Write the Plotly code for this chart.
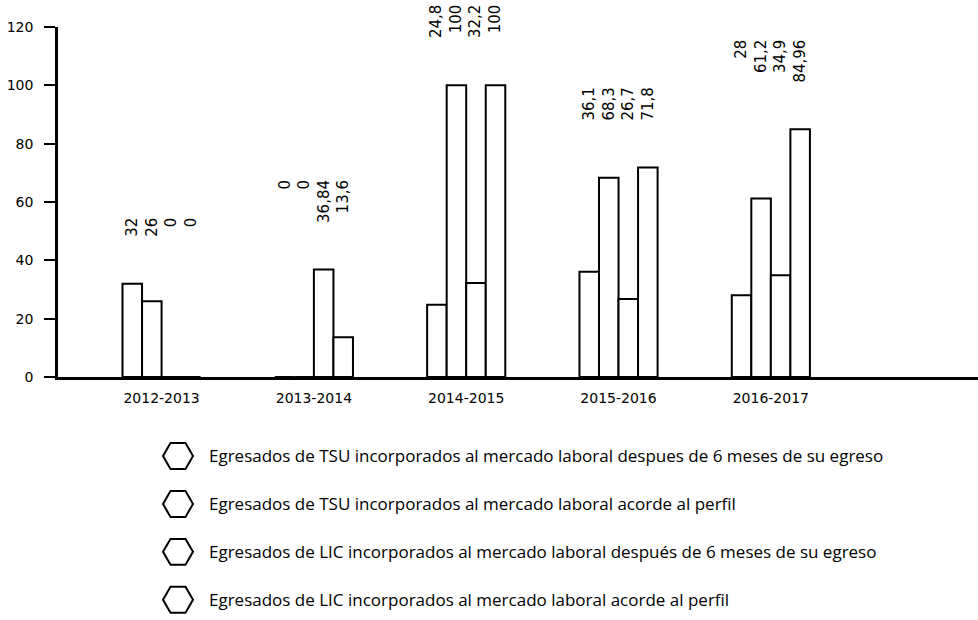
import plotly.graph_objects as go

# ---------------- data ----------------
categories = ["2012-2013", "2013-2014", "2014-2015", "2015-2016", "2016-2017"]
series_names = [
    "Egresados de TSU incorporados al mercado laboral despues de 6 meses de su egreso",
    "Egresados de TSU incorporados al mercado laboral acorde al perfil",
    "Egresados de LIC incorporados al mercado laboral después de 6 meses de su egreso",
    "Egresados de LIC incorporados al mercado laboral acorde al perfil",
]
tsu_6_meses = [32, 0, 24.8, 36.1, 28]
tsu_perfil = [26, 0, 100, 68.3, 61.2]
lic_6_meses = [0, 36.84, 32.2, 26.7, 34.9]
lic_perfil = [0, 13.6, 100, 71.8, 84.96]
y_tick_values = [0, 20, 40, 60, 80, 100, 120]

series_values = [tsu_6_meses, tsu_perfil, lic_6_meses, lic_perfil]

# ---------------- layout constants ----------------
W, H = 978, 620
PLOT_LEFT, PLOT_TOP, PLOT_BOTTOM = 58, 27, 377
BARGAP = 0.487
N = len(series_values)
LABEL_FONT = dict(family="DejaVu Sans", size=15, color="black")


def fmt(v):
    return f"{v:g}".replace(".", ",")


fig = go.Figure()

xs = list(range(len(categories)))
for name, vals in zip(series_names, series_values):
    fig.add_trace(go.Bar(
        x=xs, y=vals, name=name,
        marker=dict(color="white", line=dict(color="black", width=2)),
        showlegend=False, hoverinfo="skip",
    ))

annotations = []
# one rotated multi-line label block per group: each line sits over its bar
for i in range(len(categories)):
    group = [vals[i] for vals in series_values]
    annotations.append(dict(
        x=i, y=max(group), xref="x", yref="y",
        text="<br>".join(fmt(v) for v in group), showarrow=False,
        textangle=-90, align="right", xanchor="center", yanchor="bottom",
        yshift=46, borderpad=0, font=LABEL_FONT,
    ))

# custom legend (hexagon markers + text)
leg_idx = list(range(N))
fig.add_trace(go.Scatter(
    x=[178] * N, y=leg_idx, xaxis="x2", yaxis="y2", mode="markers",
    marker=dict(symbol="hexagon2", size=30, color="white",
                line=dict(color="black", width=2)),
    showlegend=False, hoverinfo="skip", cliponaxis=False,
))
for j, name in enumerate(series_names):
    annotations.append(dict(
        x=207, y=j, xref="x2", yref="y2", text=name, showarrow=False,
        xanchor="left", yanchor="middle",
        font=dict(family="Open Sans", size=17, color="black"),
    ))

fig.update_layout(
    width=W, height=H,
    margin=dict(l=0, r=0, t=0, b=0),
    paper_bgcolor="white", plot_bgcolor="white",
    barmode="group", bargap=BARGAP, bargroupgap=0,
    showlegend=False,
    annotations=annotations,
    xaxis=dict(
        domain=[PLOT_LEFT / W, 1], range=[-0.68, 5.36],
        tickvals=xs, ticktext=categories, ticks="",
        showline=True, linecolor="black", linewidth=2.5,
        showgrid=False, zeroline=False, automargin=False,
        tickfont=dict(family="DejaVu Sans", size=14, color="black"),
        ticklabelstandoff=6, anchor="y",
    ),
    yaxis=dict(
        domain=[1 - PLOT_BOTTOM / H, 1 - PLOT_TOP / H], range=[0, 120],
        tickvals=y_tick_values, ticks="outside", ticklen=11, tickwidth=2,
        tickcolor="black",
        showline=True, linecolor="black", linewidth=2.5,
        showgrid=False, zeroline=False, automargin=False,
        tickfont=dict(family="DejaVu Sans", size=14, color="black"),
        ticklabelstandoff=8, anchor="x",
    ),
    xaxis2=dict(domain=[0, 1], range=[0, W], visible=False, anchor="y2"),
    yaxis2=dict(domain=[0, 190 / H], range=[3.42, -0.54], visible=False, anchor="x2"),
)

fig.write_html(
    "out.html",
    config={"displayModeBar": False},
    post_script="document.body.style.margin='0px';",
)
